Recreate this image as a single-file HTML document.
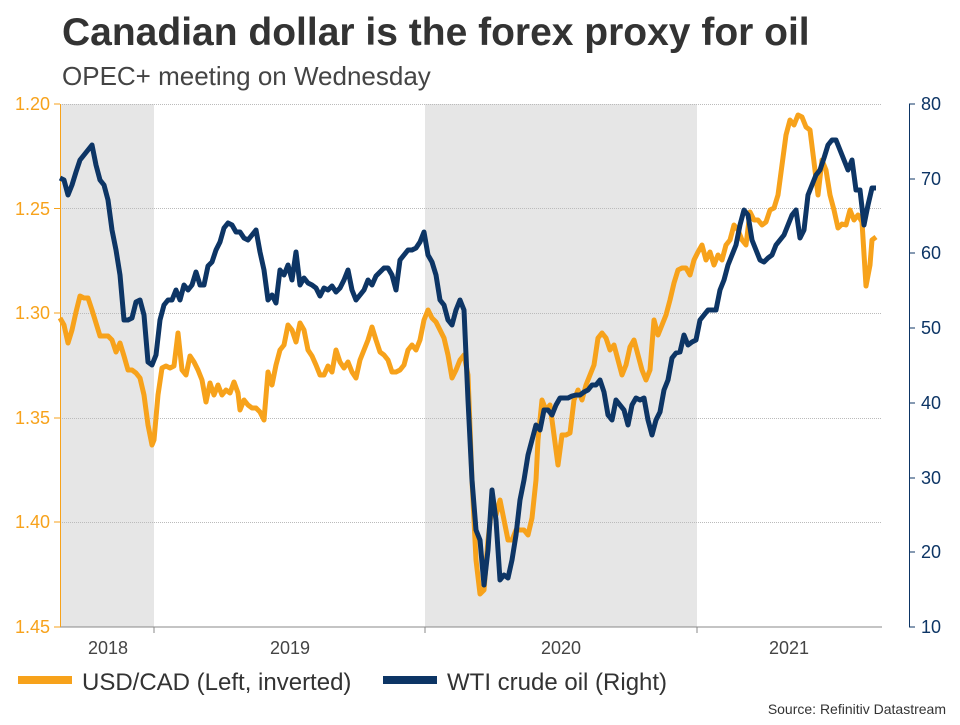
<!DOCTYPE html>
<html><head><meta charset="utf-8"><style>
body{margin:0;background:#fff;width:960px;height:720px;overflow:hidden;font-family:"Liberation Sans",Arial,sans-serif}
</style></head><body>
<svg width="960" height="720" xmlns="http://www.w3.org/2000/svg" font-family="Liberation Sans, Arial, sans-serif">
<text x="62" y="45" font-size="39" font-weight="bold" fill="#333">Canadian dollar is the forex proxy for oil</text>
<text x="62" y="85" font-size="26" fill="#444">OPEC+ meeting on Wednesday</text>
<rect x="60" y="104" width="94" height="523" fill="#e6e6e6"/>
<rect x="425" y="104" width="272" height="523" fill="#e6e6e6"/>
<g stroke="#bbb" stroke-dasharray="1,1" stroke-width="1">
<line x1="60" x2="882" y1="104.5" y2="104.5"/><line x1="60" x2="882" y1="208.5" y2="208.5"/>
<line x1="60" x2="882" y1="313.5" y2="313.5"/><line x1="60" x2="882" y1="418.5" y2="418.5"/>
<line x1="60" x2="882" y1="522.5" y2="522.5"/></g>
<line x1="60" x2="882" y1="627" y2="627" stroke="#888"/>
<g stroke="#888"><line x1="154" x2="154" y1="627" y2="633"/><line x1="425" x2="425" y1="627" y2="633"/><line x1="697" x2="697" y1="627" y2="633"/></g>
<line x1="60.5" x2="60.5" y1="104" y2="627" stroke="#f7a21b"/>
<g stroke="#f7a21b"><line x1="54" x2="60" y1="104" y2="104"/><line x1="54" x2="60" y1="208.5" y2="208.5"/><line x1="54" x2="60" y1="313" y2="313"/><line x1="54" x2="60" y1="418" y2="418"/><line x1="54" x2="60" y1="522" y2="522"/><line x1="54" x2="60" y1="627" y2="627"/></g>
<g fill="#f7a21b" font-size="18" text-anchor="end">
<text x="50" y="110">1.20</text><text x="50" y="215">1.25</text><text x="50" y="319">1.30</text><text x="50" y="424">1.35</text><text x="50" y="528">1.40</text><text x="50" y="633">1.45</text></g>
<line x1="909.5" x2="909.5" y1="104" y2="627" stroke="#0d3565"/>
<g stroke="#0d3565"><line x1="909" x2="915" y1="104" y2="104"/><line x1="909" x2="915" y1="179" y2="179"/><line x1="909" x2="915" y1="253" y2="253"/><line x1="909" x2="915" y1="328" y2="328"/><line x1="909" x2="915" y1="403" y2="403"/><line x1="909" x2="915" y1="478" y2="478"/><line x1="909" x2="915" y1="552" y2="552"/><line x1="909" x2="915" y1="627" y2="627"/></g>
<g fill="#0d3565" font-size="18">
<text x="921" y="110">80</text><text x="921" y="185">70</text><text x="921" y="259">60</text><text x="921" y="334">50</text><text x="921" y="409">40</text><text x="921" y="484">30</text><text x="921" y="558">20</text><text x="921" y="633">10</text></g>
<g fill="#444" font-size="18" text-anchor="middle"><text x="108" y="654">2018</text><text x="290" y="654">2019</text><text x="561" y="654">2020</text><text x="789" y="654">2021</text></g>
<polyline fill="none" stroke="#f7a21b" stroke-width="5" stroke-linejoin="round" points="60,318 64,325 68,343 72,330 76,312 80,296 84,298 88,298 92,310 96,323 100,336 104,336 108,336 112,340 116,352 120,343 124,356 128,370 132,370 136,373 140,378 144,395 148,425 152,445 154,440 158,395 162,368 166,366 170,368 174,366 178,333 182,370 186,375 190,356 194,362 198,370 202,380 206,402 210,383 214,395 218,385 222,395 226,390 230,393 234,382 238,393 240,410 244,400 248,405 252,408 256,408 260,412 264,420 268,372 272,385 276,365 280,350 284,345 288,325 292,330 296,342 300,323 304,330 308,350 312,356 316,365 320,375 324,375 328,366 332,372 336,350 340,362 344,368 348,362 352,372 356,378 360,360 364,350 368,340 372,327 376,340 380,352 384,355 388,360 392,372 396,372 400,370 404,365 408,350 412,345 416,350 420,340 424,320 428,310 432,318 436,322 440,330 444,338 448,355 452,378 456,370 460,360 464,355 468,375 472,480 476,560 480,594 484,590 488,540 492,505 496,515 500,500 504,520 508,540 512,540 516,530 520,530 524,530 528,535 532,518 536,480 538,440 542,400 546,410 550,405 554,435 558,465 562,435 566,435 570,433 574,400 578,390 582,400 586,385 590,375 594,365 598,338 602,333 606,338 610,350 614,345 618,360 622,375 626,365 630,347 634,340 638,355 642,370 646,380 650,370 654,320 658,335 662,325 666,315 670,300 674,283 678,270 682,268 686,268 690,275 694,260 698,252 702,245 706,260 710,252 714,265 718,255 722,260 726,245 730,240 734,225 738,230 742,240 746,245 750,212 754,220 758,220 762,225 766,222 770,210 774,208 778,195 782,165 786,135 790,120 794,125 798,115 802,117 806,127 810,130 814,162 818,195 822,160 826,170 830,195 834,210 838,228 842,224 846,225 850,210 854,220 858,215 862,222 866,286 870,265 872,240 876,237"/>
<polyline fill="none" stroke="#0d3565" stroke-width="5" stroke-linejoin="round" points="60,178 64,180 68,195 72,185 76,172 80,160 84,155 88,150 92,145 96,165 100,180 104,185 108,200 112,230 116,250 120,275 124,320 128,320 132,318 136,302 140,300 144,315 148,362 152,365 156,355 160,320 164,305 168,300 172,300 176,290 180,300 184,285 188,290 192,285 196,272 200,285 204,285 208,266 212,262 216,250 220,242 224,228 228,223 232,225 236,232 240,232 244,238 248,240 252,235 256,230 260,252 264,270 268,300 272,295 276,303 280,270 284,275 288,265 292,280 296,252 300,285 304,278 308,283 312,285 316,288 320,296 324,288 328,290 332,286 336,292 340,288 344,280 348,270 352,290 356,300 360,295 364,290 368,280 372,285 376,276 380,272 384,268 388,268 392,275 396,290 400,260 404,255 408,250 412,250 416,248 420,242 424,232 428,255 432,262 436,275 440,300 444,305 448,320 452,325 456,310 460,300 464,310 468,400 472,480 476,530 480,540 484,585 488,550 492,490 496,520 500,580 504,575 508,578 512,560 516,535 520,500 524,480 528,455 532,440 536,425 540,430 544,410 548,410 552,415 556,405 560,398 564,398 568,398 572,396 576,395 580,395 584,392 588,390 592,385 596,385 600,380 604,392 608,415 612,420 616,400 620,405 624,410 628,425 632,405 636,398 640,400 644,398 648,420 652,435 656,420 660,412 664,390 668,380 672,358 676,353 680,352 684,335 688,345 692,342 696,340 700,320 704,315 708,310 712,310 716,310 720,290 724,280 728,265 732,255 736,245 740,225 744,210 748,215 752,240 756,250 760,260 764,262 768,258 772,255 776,245 780,240 784,235 788,225 792,215 796,210 800,238 804,230 808,195 812,185 816,175 820,170 824,158 828,145 832,140 836,140 840,150 844,160 848,170 852,160 856,190 860,190 864,225 868,205 872,188 876,188"/>
<rect x="18" y="676" width="54" height="8" fill="#f7a21b"/>
<text x="82" y="690" font-size="24" fill="#333">USD/CAD (Left, inverted)</text>
<rect x="383" y="676" width="54" height="8" fill="#0d3565"/>
<text x="447" y="690" font-size="24" fill="#333">WTI crude oil (Right)</text>
<text x="946" y="714" font-size="14" fill="#333" text-anchor="end">Source: Refinitiv Datastream</text>
</svg>
</body></html>
